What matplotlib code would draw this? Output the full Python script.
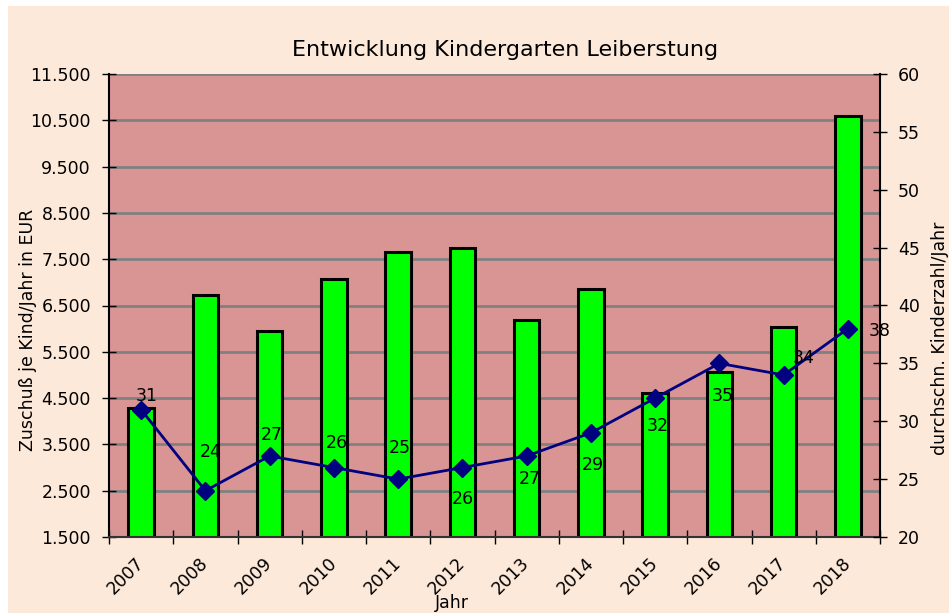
import numpy as np
import matplotlib
matplotlib.use('Agg')
import matplotlib.pyplot as plt
from matplotlib.patches import Rectangle
from matplotlib.ticker import FuncFormatter

# data
jahre = ['2007', '2008', '2009', '2010', '2011', '2012',
         '2013', '2014', '2015', '2016', '2017', '2018']
zuschuss = [4280, 6720, 5960, 7080, 7660, 7750, 6190, 6850, 4600, 5070, 6040, 10590]
kinder = [31, 24, 27, 26, 25, 26, 27, 29, 32, 35, 34, 38]

# label offsets (pixels) for the count labels, like in the original
lab_off = [(6, 14), (5, 39), (2, 21), (3, 25), (2, 31), (0, -31),
           (3, -23), (2, -32), (3, -28), (3, -33), (20, 17), (32, -2)]

W, H = 949, 615
fig = plt.figure(figsize=(W/100, H/100), dpi=100, facecolor='white')
# peach background panel with a thin white margin on top/left
fig.patches.append(Rectangle((8/W, 2/H), 1-8/W, 1-8/H, transform=fig.transFigure,
                             facecolor='#FDE9D9', edgecolor='none', zorder=-10))

ax = fig.add_axes([109/W, 78/H, 771/W, 463/H])
ax.set_facecolor('#D99594')
x = np.arange(len(jahre))

ax.set_ylim(1500, 11500)
ax.set_yticks(np.arange(1500, 11501, 1000))
ax.yaxis.set_major_formatter(FuncFormatter(lambda v, p: '{:,.0f}'.format(v).replace(',', '.')))
ax.grid(axis='y', color='#808080', lw=2, zorder=0)
ax.set_axisbelow(True)

ax.bar(x, zuschuss, width=0.4, color='#00FF00', edgecolor='black', lw=2.2, zorder=2)

ax.set_xlim(-0.5, len(jahre)-0.5)
ax.set_xticks(np.arange(-0.5, len(jahre), 1))
ax.set_xticklabels([])
ax.set_xticks(x, minor=True)
ax.set_xticklabels(jahre, minor=True, rotation=45, ha='right', va='center',
                   rotation_mode='anchor', fontsize=12.5)
ax.tick_params(axis='x', which='minor', length=0, pad=17)
ax.tick_params(axis='x', which='major', direction='inout', length=10, width=1)
ax.tick_params(axis='y', direction='inout', length=10, width=1, labelsize=12.5, pad=8)

for s in ['top', 'right']:
    ax.spines[s].set_visible(False)
ax.spines['left'].set_linewidth(1.5)
ax.spines['bottom'].set_linewidth(1.5)
ax.spines['bottom'].set_color('#333333')

ax2 = ax.twinx()
ax2.set_ylim(20, 60)
ax2.set_yticks(np.arange(20, 61, 5))
ax2.tick_params(axis='y', direction='inout', length=10, width=1, labelsize=12.5, pad=8)
for s in ['top', 'left', 'bottom']:
    ax2.spines[s].set_visible(False)
ax2.spines['right'].set_linewidth(1.5)
ax2.plot(x, kinder, color='#000080', lw=2, marker='D', ms=9, zorder=3)

for xi, k, (dx, dy) in zip(x, kinder, lab_off):
    ax2.annotate(str(k), (xi, k), xytext=(dx*0.72, dy*0.72), textcoords='offset points',
                 ha='center', va='center', fontsize=12.5, color='black')

fig.text(505/W, 1-50/H, 'Entwicklung Kindergarten Leiberstung', ha='center', va='center',
         fontsize=16)
fig.text(28/W, 1-330/H, 'Zuschuß je Kind/Jahr in EUR', rotation=90, ha='center',
         va='center', fontsize=12.5)
fig.text(940/W, 1-338/H, 'durchschn. Kinderzahl/Jahr', rotation=90, ha='center',
         va='center', fontsize=12.5)
fig.text(452/W, 1-603/H, 'Jahr', ha='center', va='center', fontsize=12.5)

fig.savefig('out.png', dpi=100, facecolor=fig.get_facecolor())
